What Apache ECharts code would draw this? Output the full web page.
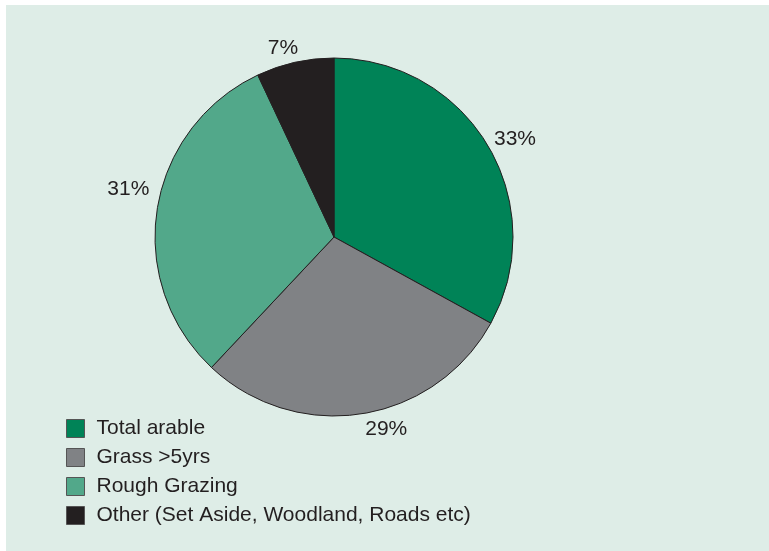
<!DOCTYPE html>
<html>
<head>
<meta charset="utf-8">
<script src="https://cdn.jsdelivr.net/npm/echarts@6/dist/echarts.min.js"></script>
<style>
html,body{margin:0;padding:0;background:#ffffff;}
#c{width:769px;height:551px;}
</style>
</head>
<body>
<div id="c"></div>
<script>
const categories = ['Total arable', 'Grass >5yrs', 'Rough Grazing', 'Other (Set Aside, Woodland, Roads etc)'];
const values = [33, 29, 31, 7];
const colors = ['#008357', '#808285', '#52a88a', '#231f20'];
// small nudges of the outside labels (style only)
const labelNudge = [[-10, -3], [-7, 8], [9, -19], [14, -6]];

const chart = echarts.init(document.getElementById('c'), null, {renderer: 'canvas'});
chart.setOption({
  animation: false,
  graphic: [{
    type: 'rect', z: -10, silent: true,
    shape: {x: 6, y: 5, width: 763, height: 546},
    style: {fill: '#deede7'}
  }],
  legend: {
    orient: 'vertical',
    left: 66, top: 418, padding: 0,
    itemWidth: 18, itemHeight: 18, itemGap: 8,
    icon: 'rect',
    data: categories,
    itemStyle: {borderColor: '#555', borderWidth: 1},
    textStyle: {fontFamily: 'Liberation Sans', fontSize: 21, color: '#231f20', padding: [0,0,0,7]}
  },
  series: [{
    type: 'pie',
    center: [334, 237],
    radius: [0, 179],
    startAngle: 90,
    clockwise: true,
    color: colors,
    itemStyle: {borderColor: '#231f20', borderWidth: 1},
    label: {
      show: true, position: 'outside',
      formatter: '{c}%',
      fontFamily: 'Liberation Sans', fontSize: 21, color: '#231f20'
    },
    labelLine: {show: false, length: 8, length2: 4},
    labelLayout: function (p) {
      const n = labelNudge[p.dataIndex];
      return {dx: n[0], dy: n[1]};
    },
    emphasis: {disabled: true},
    data: categories.map((n, i) => ({name: n, value: values[i]}))
  }]
});
</script>
</body>
</html>
